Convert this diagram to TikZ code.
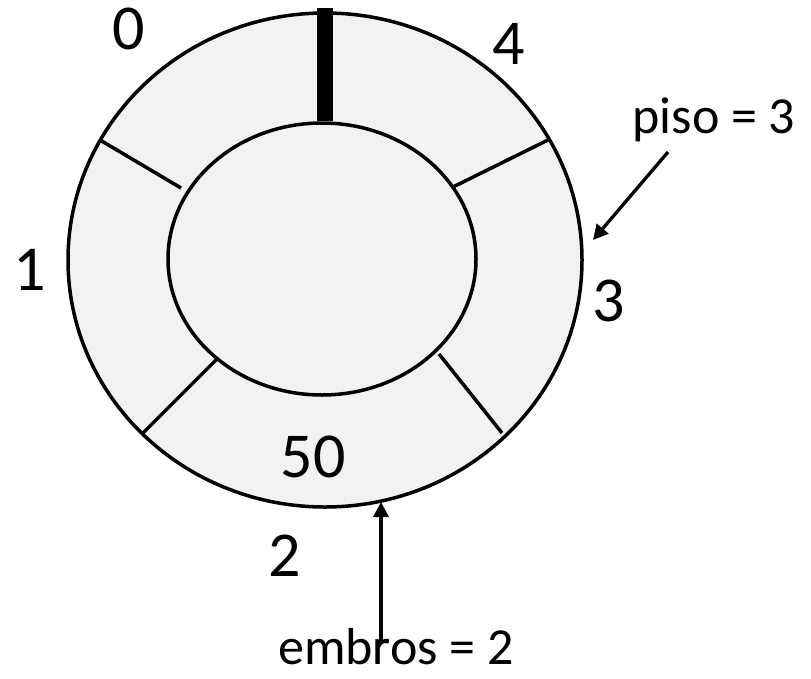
\documentclass[tikz,border=0pt]{standalone}
\usepackage{fontspec}
\setmainfont{Carlito}
\usetikzlibrary{arrows.meta}
\definecolor{ringfill}{HTML}{F2F2F2}
\tikzset{
  ring/.style={draw=black, line width=3.5pt, fill=ringfill},
  divider/.style={draw=black, line width=3.5pt},
  biglabel/.style={font=\fontsize{64}{64}\selectfont, inner sep=0pt},
  notelabel/.style={font=\fontsize{52}{52}\selectfont, inner sep=0pt, text depth=0pt},
  pointer/.style={draw=black, line width=3.3pt, -{Triangle[length=15pt,width=15pt]}}
}
\begin{document}
\begin{tikzpicture}[x=1pt,y=-1pt]
\useasboundingbox (0,0) rectangle (811,678);
% rings
\path[ring] (325,260) ellipse [x radius=257, y radius=247];
\path[ring] (322,259) ellipse [x radius=154, y radius=136];
% dividers
\draw[divider] (100,140) -- (181,188);
\draw[divider] (548,140) -- (453,187);
\draw[divider] (218,358) -- (142,434);
\draw[divider] (439,354) -- (502,433);
% head marker
\fill[black] (317,8) rectangle (333,121);
% slot labels
\node[biglabel] (l0) at (129,29) {0};
\node[biglabel] (l4) at (509,44) {4};
\node[biglabel] (l1) at (30,270) {1};
\node[biglabel] (l3) at (609,301) {3};
\node[biglabel] (l2) at (285,556) {2};
\node[biglabel] (v50) at (313,457) {50};
% notes
\node[notelabel, anchor=base] (piso) at (714,133) {piso = 3};
\node[notelabel, anchor=base] (embros) at (396,664) {embros = 2};
\coordinate (pisostart) at (668,152);
\coordinate (pisotip) at (593,240);
\coordinate (embstart) at (381,644);
\coordinate (embtip) at (381,502);
\draw[pointer] (pisostart) -- (pisotip);
\draw[pointer] (embstart) -- (embtip);
\end{tikzpicture}
\end{document}
